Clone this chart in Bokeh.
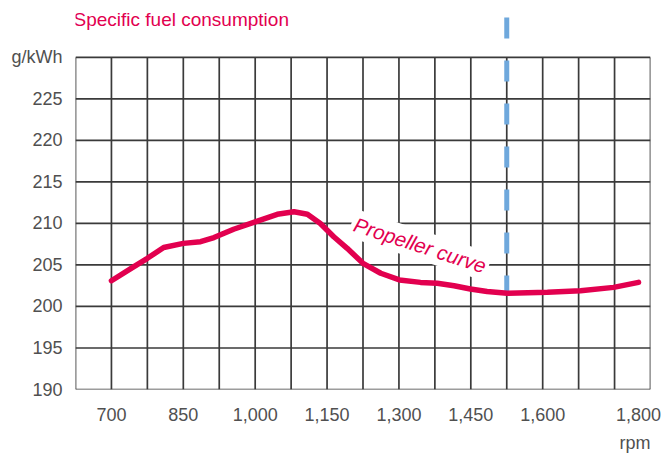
from bokeh.plotting import figure
from bokeh.models import Range1d, FixedTicker, NumeralTickFormatter, Label, Title
from bokeh.embed import file_html
from bokeh.resources import INLINE

# ---- data ----
rpm = [700, 747, 775, 809, 850, 886, 914, 955, 1000, 1046, 1081, 1109, 1136,
       1164, 1192, 1225, 1262, 1301, 1345, 1380, 1415, 1449, 1484, 1526,
       1610, 1679, 1748, 1800]
sfc = [203.1, 204.8, 205.8, 207.1, 207.6, 207.8, 208.3, 209.3, 210.2, 211.1,
       211.4, 211.1, 210.0, 208.4, 207.0, 205.2, 204.0, 203.2, 202.9, 202.8,
       202.5, 202.1, 201.8, 201.6, 201.7, 201.9, 202.3, 202.9]

x_ticks = [700, 850, 1000, 1150, 1300, 1450, 1600, 1800]
y_ticks = [190, 195, 200, 205, 210, 215, 220, 225, 230]
y_unit_label = "g/kWh"
x_unit_label = "rpm"
title_text = "Specific fuel consumption"
curve_label = "Propeller curve"
rated_rpm = 1525
rated_top = 234.8
rated_bottom = 201.6

x_min, x_max, x_step = 625, 1825, 75
y_min, y_max, y_step = 190, 230, 5

RED = "#e2004f"
GRID = "#3a3a3a"
LABEL = "#505050"
BLUE = "#6fa8dc"
FONT = "'Liberation Sans', Arial, sans-serif"

p = figure(width=665, height=459, x_range=Range1d(x_min, x_max),
           y_range=Range1d(y_min, 236.85), output_backend="svg",
           toolbar_location=None, title=None,
           min_border_left=75, min_border_right=15,
           min_border_top=0, min_border_bottom=69)
p.outline_line_color = None
p.xgrid.visible = False
p.ygrid.visible = False
p.background_fill_color = "white"
p.border_fill_color = "white"

# grid drawn as segments so it stops at 230 while the dashed line rises above
gx = list(range(x_min, x_max + 1, x_step))
gy = list(range(y_min, y_max + 1, y_step))
p.segment(x0=gx, y0=[y_min] * len(gx), x1=gx, y1=[y_max] * len(gx),
          line_color=GRID, line_width=1.7)
p.segment(x0=[x_min] * len(gy), y0=gy, x1=[x_max] * len(gy), y1=gy,
          line_color=GRID, line_width=1.7)

# rated speed marker
p.line(x=[rated_rpm, rated_rpm], y=[rated_top, rated_bottom],
       line_color=BLUE, line_width=5, line_dash="21 22")

# propeller curve
p.line(x=rpm, y=sfc, line_color=RED, line_width=5.5, line_cap="round",
       line_join="round")

# axes
for ax in (p.xaxis[0], p.yaxis[0]):
    ax.axis_line_color = None
    ax.major_tick_line_color = None
    ax.minor_tick_line_color = None
    ax.major_tick_out = 0
    ax.major_tick_in = 0
    ax.minor_tick_out = 0
    ax.axis_label_standoff = 0
    ax.major_label_text_font = FONT
    ax.major_label_text_font_size = "18px"
    ax.major_label_text_color = LABEL

p.xaxis.ticker = FixedTicker(ticks=x_ticks)
p.xaxis.formatter = NumeralTickFormatter(format="0,0")
p.xaxis.major_label_standoff = 18
p.yaxis.ticker = FixedTicker(ticks=y_ticks)
p.yaxis.major_label_overrides = {230: y_unit_label}
p.yaxis.major_label_standoff = 13

# x unit label, right-aligned under the axis
p.add_layout(Title(text=x_unit_label, align="right", text_color=LABEL,
                   text_font=FONT, text_font_size="18px",
                   text_font_style="normal", standoff=14), "below")

# title
p.add_layout(Label(x=x_min, y=234.56, x_offset=-2, text=title_text,
                   text_color=RED, text_font=FONT,
                   text_font_size="19px", text_align="left",
                   text_baseline="middle"))

# curve label
p.add_layout(Label(x=1344, y=207.4, text=curve_label, text_color=RED,
                   text_font=FONT, text_font_size="20.5px",
                   text_font_style="italic", angle=-18, angle_units="deg",
                   text_align="center", text_baseline="middle",
                   background_fill_color="white", padding=3))

open("out.html", "w").write(file_html(p, INLINE))
